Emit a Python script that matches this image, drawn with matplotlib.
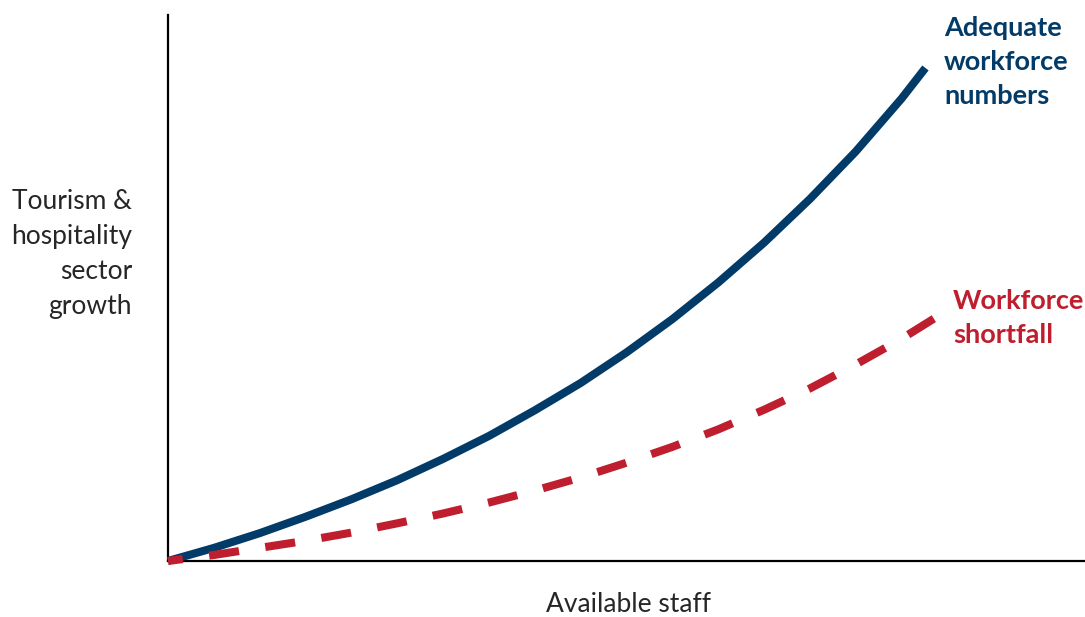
import matplotlib.pyplot as plt

plt.rcParams['font.family'] = ['Lato', 'DejaVu Sans']

# staff availability (x) vs sector growth (y), both on a 0-100 scale
adequate_x = [0, 5, 10, 15, 20, 25, 30, 35, 40, 45, 50, 55, 60, 65, 70, 75, 80, 82.6]
adequate_y = [0, 2.4, 5.1, 8.1, 11.3, 14.8, 18.7, 22.9, 27.6, 32.6, 38.2, 44.3,
              51.0, 58.3, 66.3, 75.0, 84.7, 90.3]

shortfall_x = [0, 5, 10, 15, 20, 25, 30, 35, 40, 45, 50, 55, 60, 65, 70, 75, 80, 84.2]
shortfall_y = [0, 1.1, 2.4, 3.7, 5.2, 6.9, 8.7, 10.7, 12.9, 15.3, 18.0, 20.9,
               24.1, 27.7, 31.6, 36.0, 40.7, 45.1]

blue = '#033b68'
red = '#be1e2d'

fig = plt.figure(figsize=(10.85, 6.17), dpi=100)
ax = fig.add_axes([168/1085, 56/617, 917/1085, 546/617])

ax.plot(adequate_x, adequate_y, color=blue, lw=5.8, solid_capstyle='butt',
        solid_joinstyle='round', clip_on=False, zorder=3)
ax.plot(shortfall_x, shortfall_y, color=red, lw=5.8, dash_capstyle='butt',
        dash_joinstyle='round', linestyle=(1.9, (3.75, 3.3)), clip_on=False, zorder=4)

ax.set_xlim(0, 100)
ax.set_ylim(0, 100)
ax.set_xticks([])
ax.set_yticks([])
for side in ['top', 'right']:
    ax.spines[side].set_visible(False)
for side in ['left', 'bottom']:
    ax.spines[side].set_linewidth(1.6)
    ax.spines[side].set_color('black')

fig.text(132/1085, 1 - 254/617, 'Tourism &\nhospitality\nsector\ngrowth',
         ha='right', va='center', fontsize=19, color='#262626', linespacing=1.5)
fig.text(628/1085, 1 - 605/617, 'Available staff', ha='center', va='center',
         fontsize=19, color='#262626')

fig.text(944/1085, 1 - 62/617, 'Adequate\nworkforce\nnumbers', ha='left', va='center',
         fontsize=19.5, fontweight='bold', color=blue, linespacing=1.52)
fig.text(953/1085, 1 - 318/617, 'Workforce\nshortfall', ha='left', va='center',
         fontsize=19.5, fontweight='bold', color=red, linespacing=1.52)

fig.savefig('out.png', dpi=100)
